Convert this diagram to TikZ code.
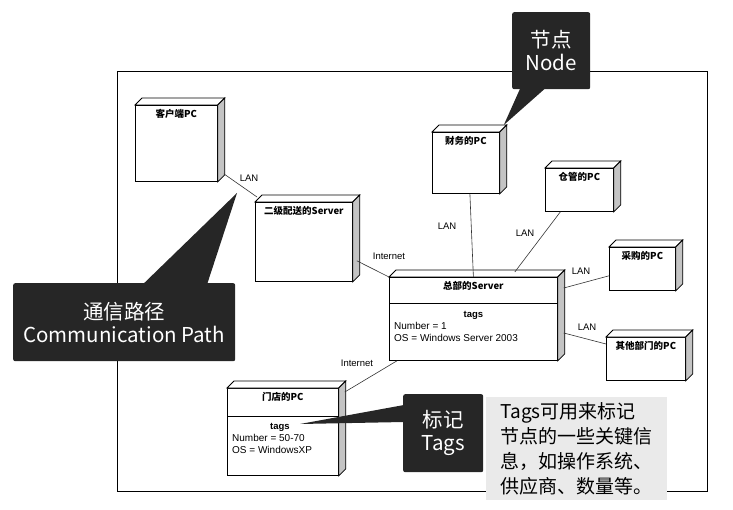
\documentclass[tikz,border=0pt]{standalone}
\usepackage{fontspec}
\setmainfont{Liberation Sans}
\newfontfamily\cjk{Noto Sans CJK SC}
\usetikzlibrary{calc}

\definecolor{calloutgray}{HTML}{262626}
\definecolor{sidegray}{HTML}{C4C4C4}
\definecolor{notegray}{HTML}{EAEAEA}

\tikzset{
  pcbox/.style={draw, fill=white, line width=0.8pt, anchor=north west, inner sep=4pt,
    text height=8pt, font=\cjk\bfseries\fontsize{9.5}{11}\selectfont, text depth=#1},
  link/.style={draw=black!80, line width=0.6pt},
  lbl/.style={font=\fontsize{9.5}{11}\selectfont, inner sep=1pt},
  tagname/.style={font=\bfseries\fontsize{9.5}{11}\selectfont, inner sep=0pt},
  attr/.style={font=\fontsize{10}{12}\selectfont, align=left, inner sep=0pt, anchor=north west},
  callout/.style={fill=calloutgray, rounded corners=2pt, text=white, align=center,
    anchor=north west, font=\cjk\fontsize{20.5}{23}\selectfont},
  note/.style={fill=notegray, anchor=north west, align=left, inner sep=0pt,
    font=\cjk\fontsize{19}{25}\selectfont},
}

\begin{document}
\begin{tikzpicture}[x=1pt, y=-1pt]
  \useasboundingbox (0,0) rectangle (733,510);

  % frame of the deployment diagram
  \draw[line width=0.8pt] (117,71) rectangle (707,491);

  % nodes
  \node[pcbox=60pt, minimum width=82pt] (client) at (135,105) {客户端PC};
  \node[pcbox=63pt, minimum width=97pt] (dist) at (255,202) {二级配送的Server};
  \node[pcbox=45pt, minimum width=67pt] (fin) at (432,132) {财务的PC};
  \node[pcbox=27pt, minimum width=68pt] (store) at (545,168) {仓管的PC};
  \node[pcbox=67pt, minimum width=168pt] (hq) at (389,277) {总部的Server};
  \node[pcbox=27pt, minimum width=66pt] (buy) at (609,247) {采购的PC};
  \node[pcbox=27pt, minimum width=79pt] (other) at (606,337) {其他部门的PC};
  \node[pcbox=71pt, minimum width=111pt] (shop) at (227,388) {门店的PC};

  % 3d faces
  \foreach \n in {client,dist,fin,store,hq,buy,other,shop}{
    \draw[fill=white, line width=0.8pt] (\n.north west) -- ++(7,-7) -- ($(\n.north east)+(7,-7)$) -- (\n.north east) -- cycle;
    \draw[fill=sidegray, line width=0.8pt] (\n.north east) -- ++(7,-7) -- ($(\n.south east)+(7,-7)$) -- (\n.south east) -- cycle;
  }

  % tags
  \draw[line width=0.8pt] ($(hq.north west)+(0,26)$) -- ($(hq.north east)+(0,26)$);
  \node[tagname] (hq-tags) at ($(hq.north)+(0,38)$) {tags};
  \node[attr] (hq-attr) at ($(hq.north west)+(5,45)$) {Number = 1\\OS = Windows Server 2003};
  \draw[line width=0.8pt] ($(shop.north west)+(0,28)$) -- ($(shop.north east)+(0,28)$);
  \node[tagname] (shop-tags) at ($(shop.north)+(-3,39)$) {tags};
  \node[attr] (shop-attr) at ($(shop.north west)+(5,46)$) {Number = 50-70\\OS = WindowsXP};

  % communication paths
  \draw[link] ([shift={(6,-8)}]client.south east) -- ([shift={(2,-5)}]dist.north west);
  \draw[link] ([shift={(4,-21)}]dist.south east) -- (hq.north west);
  \draw[link] ([shift={(4,0)}]fin.south) -- (hq.north);
  \draw[link] ([shift={(-19,0)}]store.south) -- ([shift={(-43,-5)}]hq.north east);
  \draw[link] ([shift={(6,11)}]hq.north east) -- ([shift={(0,-15)}]buy.south west);
  \draw[link] ([shift={(6,56)}]hq.north east) -- ([shift={(0,7)}]other.north west);
  \draw[link] ([shift={(8,0)}]hq.south west) -- ([shift={(6,4)}]shop.north east);

  \node[lbl] (lan-client) at (249,178) {LAN};
  \node[lbl] (net-dist) at (389,256) {Internet};
  \node[lbl] (lan-fin) at (447,226) {LAN};
  \node[lbl] (lan-store) at (525,233) {LAN};
  \node[lbl] (lan-buy) at (581,271) {LAN};
  \node[lbl] (lan-other) at (587,327) {LAN};
  \node[lbl] (net-shop) at (357,363) {Internet};

  % callouts
  \node[callout, minimum width=78pt, minimum height=77pt] (nodecall) at (512,12) {节点\\Node};
  \coordinate (nodetip) at ($(fin.north east)+(4,-7)$);
  \fill[calloutgray] ([shift={(-31,-1)}]nodecall.south) -- (nodetip) -- ([shift={(-6,-1)}]nodecall.south) -- cycle;

  \node[callout, minimum width=222pt, minimum height=78pt] (commcall) at (13,283) {通信路径\\Communication Path};
  \coordinate (commtip) at (237,193);
  \fill[calloutgray] ([shift={(19,1)}]commcall.north) -- (commtip) -- ([shift={(83,1)}]commcall.north) -- cycle;

  \node[callout, minimum width=80pt, minimum height=78pt] (tagcall) at (403,394) {标记\\Tags};
  \coordinate (tagtip) at (300,424);
  \fill[calloutgray] ([shift={(1,11)}]tagcall.north west) -- (tagtip) -- ([shift={(1,28)}]tagcall.north west) -- cycle;

  % note
  \node[note, minimum width=181pt, minimum height=103pt] (tagnote) at (486,397)
    {Tags可用来标记\\节点的一些关键信\\息，如操作系统、\\供应商、数量等。};
\end{tikzpicture}
\end{document}
